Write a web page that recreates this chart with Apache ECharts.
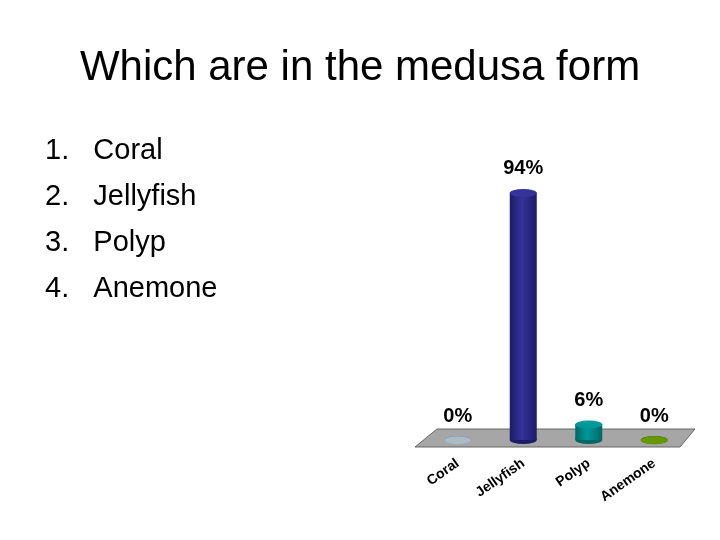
<!DOCTYPE html>
<html><head><meta charset="utf-8">
<script src="https://cdn.jsdelivr.net/npm/echarts@6/dist/echarts.min.js"></script>
<style>html,body{margin:0;background:#fff}#c{width:720px;height:540px}</style>
</head><body><div id="c"></div>
<script>
const categories = ['Coral', 'Jellyfish', 'Polyp', 'Anemone'];
const values = [0, 94, 6, 0];
const colors = ['#a9bcc8', '#333399', '#009999', '#669900'];
const darks = ['#6f8491', '#1c1c66', '#006666', '#3f6000'];
const listItems = ['1.   Coral', '2.   Jellyfish', '3.   Polyp', '4.   Anemone'];

const chart = echarts.init(document.getElementById('c'));
const grad = i => ({type:'linear',x:0,y:0,x2:1,y2:0,colorStops:[{offset:0,color:darks[i]},{offset:0.45,color:colors[i]},{offset:1,color:darks[i]}]});
chart.setOption({
  animation:false,
  graphic:[
    {type:'text',left:'center',top:47,style:{text:'Which are in the medusa form',font:'42px Arial',fill:'#000'}},
    ...listItems.map((t,i)=>({type:'text',left:45,top:136+i*46,style:{text:t,font:'29px Arial',fill:'#000'}})),
    {type:'polygon',z:-1,shape:{points:[[437,429],[695,429],[680,447],[415,447]]},style:{fill:'#a6a6a6',stroke:'#666',lineWidth:1}}
  ],
  grid:{left:425,right:33,top:177,bottom:100},
  xAxis:{type:'category',data:categories,axisLine:{show:false},axisTick:{show:false},
    axisLabel:{rotate:35,margin:22,fontWeight:'bold',fontSize:14,fontFamily:'Arial',color:'#000'}},
  yAxis:{type:'value',min:0,max:100,show:false,splitLine:{show:false}},
  series:[
    {type:'bar',barWidth:27,barGap:'-100%',data:values.map((v,i)=>({value:v,itemStyle:{color:grad(i)}})),z:2},
    {type:'pictorialBar',symbol:'circle',symbolSize:[27,8],symbolPosition:'start',barGap:'-100%',symbolOffset:[0,'50%'],
      data:values.map((v,i)=>({value:v,itemStyle:{color:darks[i]}})),z:1},
    {type:'pictorialBar',symbol:'circle',symbolSize:[27,8],symbolPosition:'end',barGap:'-100%',symbolOffset:[0,'-50%'],
      data:values.map((v,i)=>({value:v,itemStyle:{color:colors[i],borderColor:darks[i],borderWidth:1}})),z:3,
      label:{show:true,position:'top',distance:10,formatter:p=>p.value+'%',fontWeight:'bold',fontSize:20,fontFamily:'Arial',color:'#000'}}
  ]
});
</script></body></html>
